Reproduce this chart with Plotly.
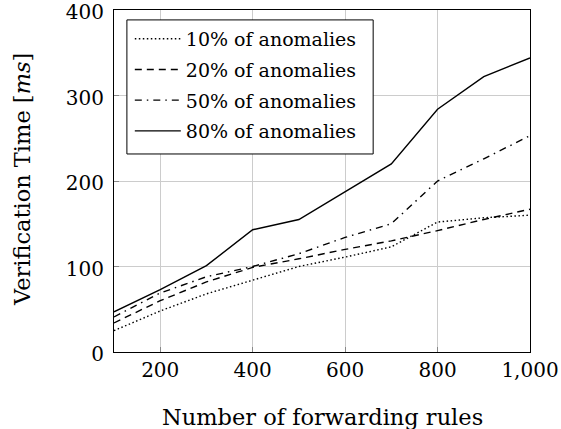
import plotly.graph_objects as go

rules = [100, 200, 300, 400, 500, 600, 700, 800, 900, 1000]
anom10 = [25, 48, 68, 84, 100, 111, 123, 152, 157, 160]
anom20 = [34, 60, 82, 99, 109, 120, 130, 142, 155, 167]
anom50 = [41, 69, 88, 100, 115, 134, 150, 200, 226, 253]
anom80 = [47, 73, 101, 143, 155, 188, 220, 284, 322, 344]

names = ["10% of anomalies", "20% of anomalies", "50% of anomalies", "80% of anomalies"]
series = [anom10, anom20, anom50, anom80]
dashes = ["1.5px,2.5px", "7px,5px", "7px,5px,1.5px,5px", "solid"]

xticks = [200, 400, 600, 800, 1000]
xticklabels = ["200", "400", "600", "800", "1,000"]
yticks = [0, 100, 200, 300, 400]

font = "DejaVu Serif"

fig = go.Figure()
for i, (name, ys, d) in enumerate(zip(names, series, dashes)):
    fig.add_trace(go.Scatter(x=rules, y=ys, mode="lines", name=name,
                             legendgroup=f"g{i}",
                             line=dict(color="black", width=1.4, dash=d)))

fig.update_layout(
    width=561, height=429,
    margin=dict(l=114, r=31, t=10, b=77),
    paper_bgcolor="white", plot_bgcolor="white",
    font=dict(family=font, size=20, color="black"),
    showlegend=True,
    legend=dict(x=0.038, y=0.971, xanchor="left", yanchor="top",
                bgcolor="rgba(0,0,0,0)", borderwidth=0,
                font=dict(family=font, size=19), tracegroupgap=3,
                itemwidth=46),
    shapes=[dict(type="rect", xref="paper", yref="paper",
                 x0=0.031, x1=0.623, y0=0.579, y1=0.971,
                 line=dict(color="black", width=1), fillcolor="white",
                 layer="above")],
    xaxis=dict(range=[100, 1000], tickvals=xticks, ticktext=xticklabels,
               showgrid=True, gridcolor="#cccccc", gridwidth=1,
               showline=True, linecolor="black", linewidth=1, mirror=True,
               ticks="inside", ticklen=5, tickcolor="#888888",
               zeroline=False, ticklabeloverflow="allow", automargin=False,
               ticklabelstandoff=0),
    yaxis=dict(range=[0, 400], tickvals=yticks,
               showgrid=True, gridcolor="#cccccc", gridwidth=1,
               showline=True, linecolor="black", linewidth=1, mirror=True,
               ticks="inside", ticklen=5, tickcolor="#888888",
               zeroline=False, ticklabeloverflow="allow", automargin=False,
               ticklabelstandoff=5, ticklabelshift=2),
    annotations=[
        dict(text="Number of forwarding rules", xref="paper", yref="paper",
             x=0.5, y=-0.19, xanchor="center", yanchor="middle",
             showarrow=False, font=dict(family=font, size=22.5)),
        dict(text="Verification Time [<i>ms</i>]", xref="paper", yref="paper",
             x=-0.221, y=0.503, xanchor="center", yanchor="middle",
             textangle=-90, showarrow=False, font=dict(family=font, size=22.5)),
    ],
)

fig.write_html("out.html", config={"displayModeBar": False},
               post_script="document.body.style.margin='0px';")
